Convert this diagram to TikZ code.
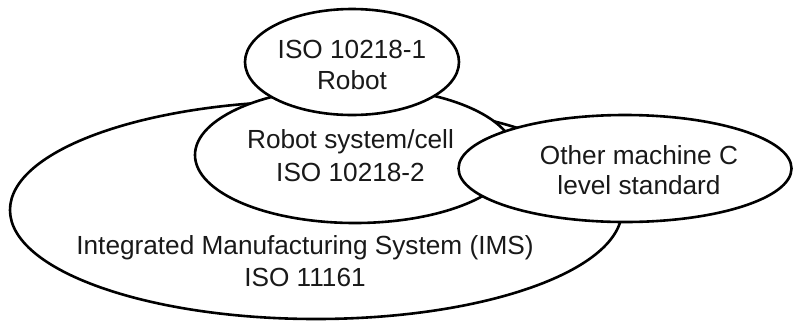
\documentclass[tikz,border=0pt]{standalone}
\usepackage{fontspec}
\setmainfont{Liberation Sans}
\usetikzlibrary{shapes.geometric}
\begin{document}
\begin{tikzpicture}[x=1pt,y=-1pt,
  ell/.style={ellipse, draw=black, fill=white, line width=2.6pt, inner sep=0pt},
  lbl/.style={align=center, anchor=base, inner sep=0pt, text=black!90}]
\useasboundingbox (0,0) rectangle (794,322);
\node[ell, minimum width=612pt, minimum height=218pt] (ims) at (316,210) {};
\node[ell, minimum width=320pt, minimum height=136pt] (sys) at (355,155) {};
\node[ell, minimum width=214pt, minimum height=106pt] (rob) at (352,62) {};
\node[ell, minimum width=333pt, minimum height=107pt] (oth) at (625,168.5) {};
\node[lbl, font=\fontsize{26.2}{31}\selectfont] (robt) at (352,89) {ISO 10218-1\\Robot};
\node[lbl, font=\fontsize{26.2}{33}\selectfont] (syst) at (350.5,181) {Robot system/cell\\ISO 10218-2};
\node[lbl, font=\fontsize{26.2}{30}\selectfont] (otht) at (639,194) {Other machine C\\level standard};
\node[lbl, font=\fontsize{26.2}{32}\selectfont] (imst) at (305,286) {Integrated Manufacturing System (IMS)\\ISO 11161};
\end{tikzpicture}
\end{document}
